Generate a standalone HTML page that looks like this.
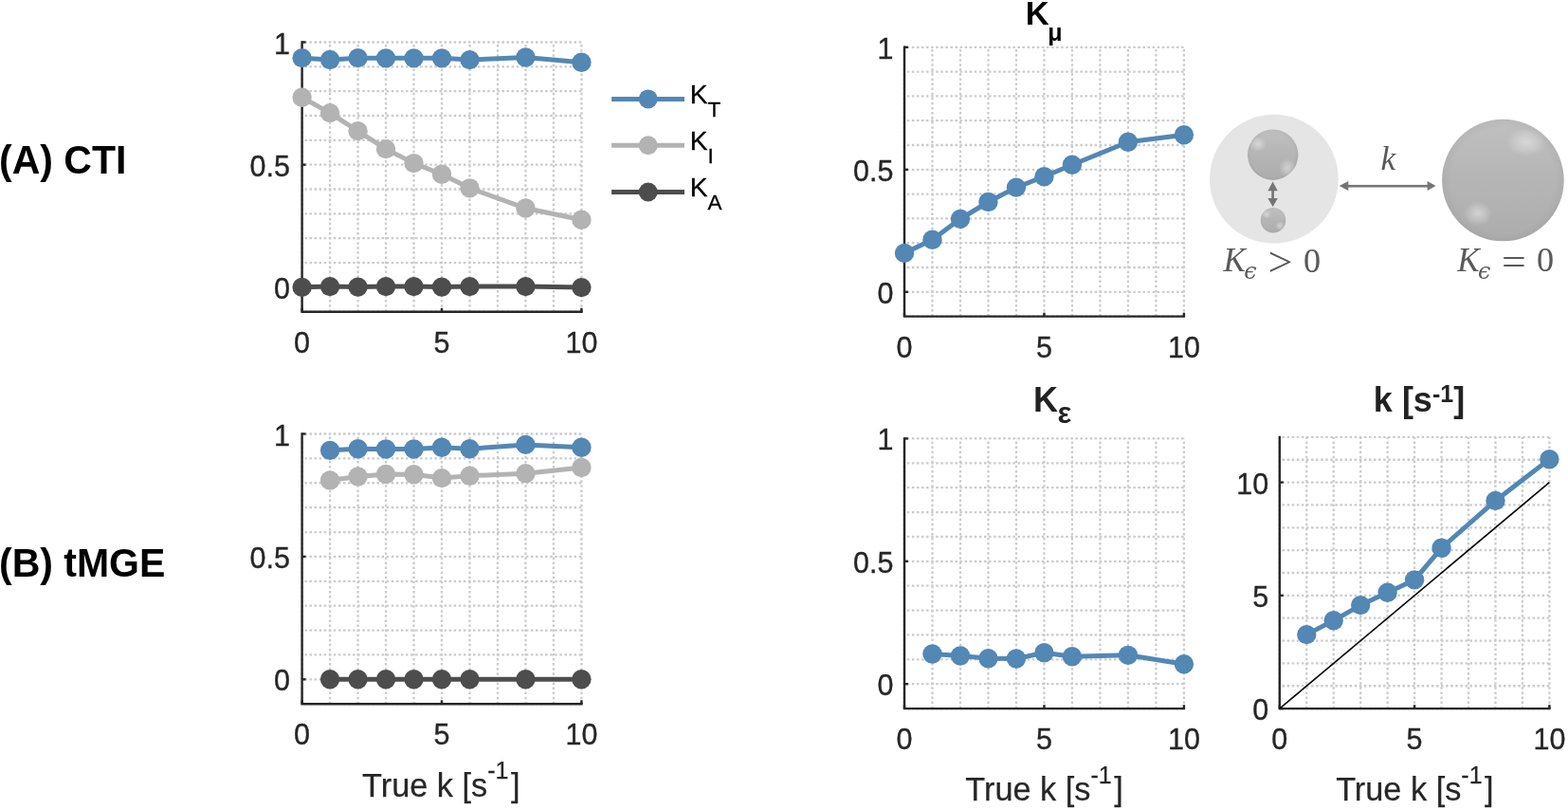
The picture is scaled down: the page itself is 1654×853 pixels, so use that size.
<!DOCTYPE html>
<html><head><meta charset="utf-8"><title>Figure</title>
<style>html,body{margin:0;padding:0;background:#fff;overflow:hidden}svg{display:block}</style>
</head><body>
<svg width="1654" height="853" viewBox="0 0 1654 853"><rect width="1654" height="853" fill="#fff"/>
<g stroke="#cbcbcb" stroke-width="2.3" stroke-dasharray="2.5 2.575" fill="none"><line x1="318.6" y1="328.7" x2="318.6" y2="44.5"/><line x1="348.08" y1="328.7" x2="348.08" y2="44.5"/><line x1="377.56" y1="328.7" x2="377.56" y2="44.5"/><line x1="407.04" y1="328.7" x2="407.04" y2="44.5"/><line x1="436.52" y1="328.7" x2="436.52" y2="44.5"/><line x1="466" y1="328.7" x2="466" y2="44.5"/><line x1="495.48" y1="328.7" x2="495.48" y2="44.5"/><line x1="524.96" y1="328.7" x2="524.96" y2="44.5"/><line x1="554.44" y1="328.7" x2="554.44" y2="44.5"/><line x1="583.92" y1="328.7" x2="583.92" y2="44.5"/><line x1="613.4" y1="328.7" x2="613.4" y2="44.5"/><line x1="318.6" y1="328.7" x2="613.4" y2="328.7" stroke-dashoffset="2.3"/><line x1="318.6" y1="302.86" x2="613.4" y2="302.86" stroke-dashoffset="2.3"/><line x1="318.6" y1="277.03" x2="613.4" y2="277.03" stroke-dashoffset="2.3"/><line x1="318.6" y1="251.19" x2="613.4" y2="251.19" stroke-dashoffset="2.3"/><line x1="318.6" y1="225.35" x2="613.4" y2="225.35" stroke-dashoffset="2.3"/><line x1="318.6" y1="199.52" x2="613.4" y2="199.52" stroke-dashoffset="2.3"/><line x1="318.6" y1="173.68" x2="613.4" y2="173.68" stroke-dashoffset="2.3"/><line x1="318.6" y1="147.85" x2="613.4" y2="147.85" stroke-dashoffset="2.3"/><line x1="318.6" y1="122.01" x2="613.4" y2="122.01" stroke-dashoffset="2.3"/><line x1="318.6" y1="96.17" x2="613.4" y2="96.17" stroke-dashoffset="2.3"/><line x1="318.6" y1="70.34" x2="613.4" y2="70.34" stroke-dashoffset="2.3"/><line x1="318.6" y1="44.5" x2="613.4" y2="44.5" stroke-dashoffset="2.3"/></g>
<g stroke="#cbcbcb" stroke-width="2.3" stroke-dasharray="2.5 2.575" fill="none"><line x1="318.6" y1="742.2" x2="318.6" y2="457.5"/><line x1="348.08" y1="742.2" x2="348.08" y2="457.5"/><line x1="377.56" y1="742.2" x2="377.56" y2="457.5"/><line x1="407.04" y1="742.2" x2="407.04" y2="457.5"/><line x1="436.52" y1="742.2" x2="436.52" y2="457.5"/><line x1="466" y1="742.2" x2="466" y2="457.5"/><line x1="495.48" y1="742.2" x2="495.48" y2="457.5"/><line x1="524.96" y1="742.2" x2="524.96" y2="457.5"/><line x1="554.44" y1="742.2" x2="554.44" y2="457.5"/><line x1="583.92" y1="742.2" x2="583.92" y2="457.5"/><line x1="613.4" y1="742.2" x2="613.4" y2="457.5"/><line x1="318.6" y1="742.2" x2="613.4" y2="742.2" stroke-dashoffset="2.3"/><line x1="318.6" y1="716.32" x2="613.4" y2="716.32" stroke-dashoffset="2.3"/><line x1="318.6" y1="690.44" x2="613.4" y2="690.44" stroke-dashoffset="2.3"/><line x1="318.6" y1="664.55" x2="613.4" y2="664.55" stroke-dashoffset="2.3"/><line x1="318.6" y1="638.67" x2="613.4" y2="638.67" stroke-dashoffset="2.3"/><line x1="318.6" y1="612.79" x2="613.4" y2="612.79" stroke-dashoffset="2.3"/><line x1="318.6" y1="586.91" x2="613.4" y2="586.91" stroke-dashoffset="2.3"/><line x1="318.6" y1="561.03" x2="613.4" y2="561.03" stroke-dashoffset="2.3"/><line x1="318.6" y1="535.15" x2="613.4" y2="535.15" stroke-dashoffset="2.3"/><line x1="318.6" y1="509.26" x2="613.4" y2="509.26" stroke-dashoffset="2.3"/><line x1="318.6" y1="483.38" x2="613.4" y2="483.38" stroke-dashoffset="2.3"/><line x1="318.6" y1="457.5" x2="613.4" y2="457.5" stroke-dashoffset="2.3"/></g>
<g stroke="#cbcbcb" stroke-width="2.3" stroke-dasharray="2.5 2.575" fill="none"><line x1="954" y1="333.6" x2="954" y2="49.8"/><line x1="983.49" y1="333.6" x2="983.49" y2="49.8"/><line x1="1012.98" y1="333.6" x2="1012.98" y2="49.8"/><line x1="1042.47" y1="333.6" x2="1042.47" y2="49.8"/><line x1="1071.96" y1="333.6" x2="1071.96" y2="49.8"/><line x1="1101.45" y1="333.6" x2="1101.45" y2="49.8"/><line x1="1130.94" y1="333.6" x2="1130.94" y2="49.8"/><line x1="1160.43" y1="333.6" x2="1160.43" y2="49.8"/><line x1="1189.92" y1="333.6" x2="1189.92" y2="49.8"/><line x1="1219.41" y1="333.6" x2="1219.41" y2="49.8"/><line x1="1248.9" y1="333.6" x2="1248.9" y2="49.8"/><line x1="954" y1="333.6" x2="1248.9" y2="333.6" stroke-dashoffset="2.3"/><line x1="954" y1="307.8" x2="1248.9" y2="307.8" stroke-dashoffset="2.3"/><line x1="954" y1="282" x2="1248.9" y2="282" stroke-dashoffset="2.3"/><line x1="954" y1="256.2" x2="1248.9" y2="256.2" stroke-dashoffset="2.3"/><line x1="954" y1="230.4" x2="1248.9" y2="230.4" stroke-dashoffset="2.3"/><line x1="954" y1="204.6" x2="1248.9" y2="204.6" stroke-dashoffset="2.3"/><line x1="954" y1="178.8" x2="1248.9" y2="178.8" stroke-dashoffset="2.3"/><line x1="954" y1="153" x2="1248.9" y2="153" stroke-dashoffset="2.3"/><line x1="954" y1="127.2" x2="1248.9" y2="127.2" stroke-dashoffset="2.3"/><line x1="954" y1="101.4" x2="1248.9" y2="101.4" stroke-dashoffset="2.3"/><line x1="954" y1="75.6" x2="1248.9" y2="75.6" stroke-dashoffset="2.3"/><line x1="954" y1="49.8" x2="1248.9" y2="49.8" stroke-dashoffset="2.3"/></g>
<g stroke="#cbcbcb" stroke-width="2.3" stroke-dasharray="2.5 2.575" fill="none"><line x1="954" y1="747.1" x2="954" y2="462.4"/><line x1="983.49" y1="747.1" x2="983.49" y2="462.4"/><line x1="1012.98" y1="747.1" x2="1012.98" y2="462.4"/><line x1="1042.47" y1="747.1" x2="1042.47" y2="462.4"/><line x1="1071.96" y1="747.1" x2="1071.96" y2="462.4"/><line x1="1101.45" y1="747.1" x2="1101.45" y2="462.4"/><line x1="1130.94" y1="747.1" x2="1130.94" y2="462.4"/><line x1="1160.43" y1="747.1" x2="1160.43" y2="462.4"/><line x1="1189.92" y1="747.1" x2="1189.92" y2="462.4"/><line x1="1219.41" y1="747.1" x2="1219.41" y2="462.4"/><line x1="1248.9" y1="747.1" x2="1248.9" y2="462.4"/><line x1="954" y1="747.1" x2="1248.9" y2="747.1" stroke-dashoffset="2.3"/><line x1="954" y1="721.22" x2="1248.9" y2="721.22" stroke-dashoffset="2.3"/><line x1="954" y1="695.34" x2="1248.9" y2="695.34" stroke-dashoffset="2.3"/><line x1="954" y1="669.45" x2="1248.9" y2="669.45" stroke-dashoffset="2.3"/><line x1="954" y1="643.57" x2="1248.9" y2="643.57" stroke-dashoffset="2.3"/><line x1="954" y1="617.69" x2="1248.9" y2="617.69" stroke-dashoffset="2.3"/><line x1="954" y1="591.81" x2="1248.9" y2="591.81" stroke-dashoffset="2.3"/><line x1="954" y1="565.93" x2="1248.9" y2="565.93" stroke-dashoffset="2.3"/><line x1="954" y1="540.05" x2="1248.9" y2="540.05" stroke-dashoffset="2.3"/><line x1="954" y1="514.16" x2="1248.9" y2="514.16" stroke-dashoffset="2.3"/><line x1="954" y1="488.28" x2="1248.9" y2="488.28" stroke-dashoffset="2.3"/><line x1="954" y1="462.4" x2="1248.9" y2="462.4" stroke-dashoffset="2.3"/></g>
<g stroke="#cbcbcb" stroke-width="2.3" stroke-dasharray="2.5 2.575" fill="none"><line x1="1349.8" y1="747.1" x2="1349.8" y2="460.9"/><line x1="1378.26" y1="747.1" x2="1378.26" y2="460.9"/><line x1="1406.72" y1="747.1" x2="1406.72" y2="460.9"/><line x1="1435.18" y1="747.1" x2="1435.18" y2="460.9"/><line x1="1463.64" y1="747.1" x2="1463.64" y2="460.9"/><line x1="1492.1" y1="747.1" x2="1492.1" y2="460.9"/><line x1="1520.56" y1="747.1" x2="1520.56" y2="460.9"/><line x1="1549.02" y1="747.1" x2="1549.02" y2="460.9"/><line x1="1577.48" y1="747.1" x2="1577.48" y2="460.9"/><line x1="1605.94" y1="747.1" x2="1605.94" y2="460.9"/><line x1="1634.4" y1="747.1" x2="1634.4" y2="460.9"/><line x1="1349.8" y1="747.1" x2="1634.4" y2="747.1" stroke-dashoffset="2.3"/><line x1="1349.8" y1="723.25" x2="1634.4" y2="723.25" stroke-dashoffset="2.3"/><line x1="1349.8" y1="699.4" x2="1634.4" y2="699.4" stroke-dashoffset="2.3"/><line x1="1349.8" y1="675.55" x2="1634.4" y2="675.55" stroke-dashoffset="2.3"/><line x1="1349.8" y1="651.7" x2="1634.4" y2="651.7" stroke-dashoffset="2.3"/><line x1="1349.8" y1="627.85" x2="1634.4" y2="627.85" stroke-dashoffset="2.3"/><line x1="1349.8" y1="604" x2="1634.4" y2="604" stroke-dashoffset="2.3"/><line x1="1349.8" y1="580.15" x2="1634.4" y2="580.15" stroke-dashoffset="2.3"/><line x1="1349.8" y1="556.3" x2="1634.4" y2="556.3" stroke-dashoffset="2.3"/><line x1="1349.8" y1="532.45" x2="1634.4" y2="532.45" stroke-dashoffset="2.3"/><line x1="1349.8" y1="508.6" x2="1634.4" y2="508.6" stroke-dashoffset="2.3"/><line x1="1349.8" y1="484.75" x2="1634.4" y2="484.75" stroke-dashoffset="2.3"/><line x1="1349.8" y1="460.9" x2="1634.4" y2="460.9" stroke-dashoffset="2.3"/></g>
<path d="M318.6 44.5 V328.7 H613.4" stroke="#262626" stroke-width="2.4" fill="none" stroke-linecap="square"/>
<g stroke="#262626" stroke-width="2.4" fill="none"><path d="M318.6 302.86 H322.5"/><path d="M318.6 173.68 H322.5"/><path d="M318.6 44.5 H322.5"/><path d="M318.6 328.7 V324.8"/><path d="M466 328.7 V324.8"/><path d="M613.4 328.7 V324.8"/></g>
<g font-family='"Liberation Sans", Arial, Helvetica, sans-serif' font-size="30.5" fill="#262626" stroke="#262626" stroke-width="0.35"><text x="306" y="314.86" text-anchor="end">0</text><text x="306" y="185.68" text-anchor="end">0.5</text><text x="306" y="56.5" text-anchor="end">1</text><text x="318.6" y="371.7" text-anchor="middle">0</text><text x="466" y="371.7" text-anchor="middle">5</text><text x="613.4" y="371.7" text-anchor="middle">10</text></g>
<path d="M318.6 457.5 V742.2 H613.4" stroke="#262626" stroke-width="2.4" fill="none" stroke-linecap="square"/>
<g stroke="#262626" stroke-width="2.4" fill="none"><path d="M318.6 716.32 H322.5"/><path d="M318.6 586.91 H322.5"/><path d="M318.6 457.5 H322.5"/><path d="M318.6 742.2 V738.3"/><path d="M466 742.2 V738.3"/><path d="M613.4 742.2 V738.3"/></g>
<g font-family='"Liberation Sans", Arial, Helvetica, sans-serif' font-size="30.5" fill="#262626" stroke="#262626" stroke-width="0.35"><text x="306" y="728.32" text-anchor="end">0</text><text x="306" y="598.91" text-anchor="end">0.5</text><text x="306" y="469.5" text-anchor="end">1</text><text x="318.6" y="785.2" text-anchor="middle">0</text><text x="466" y="785.2" text-anchor="middle">5</text><text x="613.4" y="785.2" text-anchor="middle">10</text></g>
<path d="M954 49.8 V333.6 H1248.9" stroke="#262626" stroke-width="2.4" fill="none" stroke-linecap="square"/>
<g stroke="#262626" stroke-width="2.4" fill="none"><path d="M954 307.8 H957.9"/><path d="M954 178.8 H957.9"/><path d="M954 49.8 H957.9"/><path d="M954 333.6 V329.7"/><path d="M1101.45 333.6 V329.7"/><path d="M1248.9 333.6 V329.7"/></g>
<g font-family='"Liberation Sans", Arial, Helvetica, sans-serif' font-size="30.5" fill="#262626" stroke="#262626" stroke-width="0.35"><text x="942.4" y="319.8" text-anchor="end">0</text><text x="942.4" y="190.8" text-anchor="end">0.5</text><text x="942.4" y="61.8" text-anchor="end">1</text><text x="954" y="376.6" text-anchor="middle">0</text><text x="1101.45" y="376.6" text-anchor="middle">5</text><text x="1248.9" y="376.6" text-anchor="middle">10</text></g>
<path d="M954 462.4 V747.1 H1248.9" stroke="#262626" stroke-width="2.4" fill="none" stroke-linecap="square"/>
<g stroke="#262626" stroke-width="2.4" fill="none"><path d="M954 721.22 H957.9"/><path d="M954 591.81 H957.9"/><path d="M954 462.4 H957.9"/><path d="M954 747.1 V743.2"/><path d="M1101.45 747.1 V743.2"/><path d="M1248.9 747.1 V743.2"/></g>
<g font-family='"Liberation Sans", Arial, Helvetica, sans-serif' font-size="30.5" fill="#262626" stroke="#262626" stroke-width="0.35"><text x="942.4" y="733.22" text-anchor="end">0</text><text x="942.4" y="603.81" text-anchor="end">0.5</text><text x="942.4" y="474.4" text-anchor="end">1</text><text x="954" y="790.1" text-anchor="middle">0</text><text x="1101.45" y="790.1" text-anchor="middle">5</text><text x="1248.9" y="790.1" text-anchor="middle">10</text></g>
<path d="M1349.8 460.9 V747.1 H1634.4" stroke="#262626" stroke-width="2.4" fill="none" stroke-linecap="square"/>
<g stroke="#262626" stroke-width="2.4" fill="none"><path d="M1349.8 747.1 H1353.7"/><path d="M1349.8 627.85 H1353.7"/><path d="M1349.8 508.6 H1353.7"/><path d="M1349.8 747.1 V743.2"/><path d="M1492.1 747.1 V743.2"/><path d="M1634.4 747.1 V743.2"/></g>
<g font-family='"Liberation Sans", Arial, Helvetica, sans-serif' font-size="30.5" fill="#262626" stroke="#262626" stroke-width="0.35"><text x="1338.2" y="759.1" text-anchor="end">0</text><text x="1338.2" y="639.85" text-anchor="end">5</text><text x="1338.2" y="520.6" text-anchor="end">10</text><text x="1349.8" y="790.1" text-anchor="middle">0</text><text x="1492.1" y="790.1" text-anchor="middle">5</text><text x="1634.4" y="790.1" text-anchor="middle">10</text></g>
<line x1="1349.8" y1="747.1" x2="1634.4" y2="508.6" stroke="#000" stroke-width="1.6"/>
<polyline points="318.6,61.16 348.08,62.95 377.56,61.16 407.04,61.35 436.52,61.35 466,61.35 495.48,63.1 554.44,60.52 613.4,65.69" fill="none" stroke="#5387b4" stroke-width="5.0" stroke-linejoin="round"/>
<g fill="#5387b4"><circle cx="318.6" cy="61.16" r="10.2"/><circle cx="348.08" cy="62.95" r="10.2"/><circle cx="377.56" cy="61.16" r="10.2"/><circle cx="407.04" cy="61.35" r="10.2"/><circle cx="436.52" cy="61.35" r="10.2"/><circle cx="466" cy="61.35" r="10.2"/><circle cx="495.48" cy="63.1" r="10.2"/><circle cx="554.44" cy="60.52" r="10.2"/><circle cx="613.4" cy="65.69" r="10.2"/></g>
<polyline points="318.6,102.76 348.08,119.12 377.56,138.16 407.04,157.12 436.52,172.08 466,183.76 495.48,198.33 554.44,219.57 613.4,231.74" fill="none" stroke="#b3b3b3" stroke-width="5.0" stroke-linejoin="round"/>
<g fill="#b3b3b3"><circle cx="318.6" cy="102.76" r="10.2"/><circle cx="348.08" cy="119.12" r="10.2"/><circle cx="377.56" cy="138.16" r="10.2"/><circle cx="407.04" cy="157.12" r="10.2"/><circle cx="436.52" cy="172.08" r="10.2"/><circle cx="466" cy="183.76" r="10.2"/><circle cx="495.48" cy="198.33" r="10.2"/><circle cx="554.44" cy="219.57" r="10.2"/><circle cx="613.4" cy="231.74" r="10.2"/></g>
<polyline points="318.6,302.86 348.08,302.09 377.56,302.61 407.04,302.09 436.52,302.09 466,302.61 495.48,302.09 554.44,302.09 613.4,303.12" fill="none" stroke="#4d4d4d" stroke-width="5.0" stroke-linejoin="round"/>
<g fill="#4d4d4d"><circle cx="318.6" cy="302.86" r="10.2"/><circle cx="348.08" cy="302.09" r="10.2"/><circle cx="377.56" cy="302.61" r="10.2"/><circle cx="407.04" cy="302.09" r="10.2"/><circle cx="436.52" cy="302.09" r="10.2"/><circle cx="466" cy="302.61" r="10.2"/><circle cx="495.48" cy="302.09" r="10.2"/><circle cx="554.44" cy="302.09" r="10.2"/><circle cx="613.4" cy="303.12" r="10.2"/></g>
<polyline points="348.08,474.84 377.56,473.29 407.04,473.55 436.52,473.55 466,471.74 495.48,473.29 554.44,468.89 613.4,471.74" fill="none" stroke="#5387b4" stroke-width="5.0" stroke-linejoin="round"/>
<g fill="#5387b4"><circle cx="348.08" cy="474.84" r="10.2"/><circle cx="377.56" cy="473.29" r="10.2"/><circle cx="407.04" cy="473.55" r="10.2"/><circle cx="436.52" cy="473.55" r="10.2"/><circle cx="466" cy="471.74" r="10.2"/><circle cx="495.48" cy="473.29" r="10.2"/><circle cx="554.44" cy="468.89" r="10.2"/><circle cx="613.4" cy="471.74" r="10.2"/></g>
<polyline points="348.08,506.42 377.56,502.53 407.04,499.95 436.52,500.21 466,504.09 495.48,501.76 554.44,499.17 613.4,492.96" fill="none" stroke="#b3b3b3" stroke-width="5.0" stroke-linejoin="round"/>
<g fill="#b3b3b3"><circle cx="348.08" cy="506.42" r="10.2"/><circle cx="377.56" cy="502.53" r="10.2"/><circle cx="407.04" cy="499.95" r="10.2"/><circle cx="436.52" cy="500.21" r="10.2"/><circle cx="466" cy="504.09" r="10.2"/><circle cx="495.48" cy="501.76" r="10.2"/><circle cx="554.44" cy="499.17" r="10.2"/><circle cx="613.4" cy="492.96" r="10.2"/></g>
<polyline points="348.08,716.32 377.56,716.32 407.04,716.32 436.52,716.32 466,716.32 495.48,716.32 554.44,716.32 613.4,716.32" fill="none" stroke="#4d4d4d" stroke-width="5.0" stroke-linejoin="round"/>
<g fill="#4d4d4d"><circle cx="348.08" cy="716.32" r="10.2"/><circle cx="377.56" cy="716.32" r="10.2"/><circle cx="407.04" cy="716.32" r="10.2"/><circle cx="436.52" cy="716.32" r="10.2"/><circle cx="466" cy="716.32" r="10.2"/><circle cx="495.48" cy="716.32" r="10.2"/><circle cx="554.44" cy="716.32" r="10.2"/><circle cx="613.4" cy="716.32" r="10.2"/></g>
<polyline points="954,266.88 983.49,252.82 1012.98,230.84 1042.47,212.99 1071.96,197.61 1101.45,186.23 1130.94,173.77 1189.92,149.8 1248.9,142.22" fill="none" stroke="#5387b4" stroke-width="5.0" stroke-linejoin="round"/>
<g fill="#5387b4"><circle cx="954" cy="266.88" r="10.2"/><circle cx="983.49" cy="252.82" r="10.2"/><circle cx="1012.98" cy="230.84" r="10.2"/><circle cx="1042.47" cy="212.99" r="10.2"/><circle cx="1071.96" cy="197.61" r="10.2"/><circle cx="1101.45" cy="186.23" r="10.2"/><circle cx="1130.94" cy="173.77" r="10.2"/><circle cx="1189.92" cy="149.8" r="10.2"/><circle cx="1248.9" cy="142.22" r="10.2"/></g>
<polyline points="983.49,689.44 1012.98,691.43 1042.47,694.22 1071.96,694.43 1101.45,688.22 1130.94,692.23 1189.92,690.83 1248.9,700.23" fill="none" stroke="#5387b4" stroke-width="5.0" stroke-linejoin="round"/>
<g fill="#5387b4"><circle cx="983.49" cy="689.44" r="10.2"/><circle cx="1012.98" cy="691.43" r="10.2"/><circle cx="1042.47" cy="694.22" r="10.2"/><circle cx="1071.96" cy="694.43" r="10.2"/><circle cx="1101.45" cy="688.22" r="10.2"/><circle cx="1130.94" cy="692.23" r="10.2"/><circle cx="1189.92" cy="690.83" r="10.2"/><circle cx="1248.9" cy="700.23" r="10.2"/></g>
<polyline points="1378.26,669.11 1406.72,654.32 1435.18,638.11 1463.64,624.75 1492.1,611.39 1520.56,577.76 1577.48,527.92 1634.4,484.27" fill="none" stroke="#5387b4" stroke-width="5.0" stroke-linejoin="round"/>
<g fill="#5387b4"><circle cx="1378.26" cy="669.11" r="10.2"/><circle cx="1406.72" cy="654.32" r="10.2"/><circle cx="1435.18" cy="638.11" r="10.2"/><circle cx="1463.64" cy="624.75" r="10.2"/><circle cx="1492.1" cy="611.39" r="10.2"/><circle cx="1520.56" cy="577.76" r="10.2"/><circle cx="1577.48" cy="527.92" r="10.2"/><circle cx="1634.4" cy="484.27" r="10.2"/></g>
<line x1="645.1" y1="104.4" x2="722" y2="104.4" stroke="#5387b4" stroke-width="5"/>
<circle cx="683.7" cy="104.4" r="10" fill="#5387b4"/>
<text x="727.8" y="109" font-family='"Liberation Sans", Arial, Helvetica, sans-serif' font-size="28.2" fill="#000" stroke="#000" stroke-width="0.3">K<tspan font-size="22.5" dy="13.8">T</tspan></text>
<line x1="645.1" y1="153.3" x2="722" y2="153.3" stroke="#b3b3b3" stroke-width="5"/>
<circle cx="683.7" cy="153.3" r="10" fill="#b3b3b3"/>
<text x="727.8" y="157.9" font-family='"Liberation Sans", Arial, Helvetica, sans-serif' font-size="28.2" fill="#000" stroke="#000" stroke-width="0.3">K<tspan font-size="22.5" dy="13.8">I</tspan></text>
<line x1="645.1" y1="202.5" x2="722" y2="202.5" stroke="#4d4d4d" stroke-width="5"/>
<circle cx="683.7" cy="202.5" r="10" fill="#4d4d4d"/>
<text x="727.8" y="207.1" font-family='"Liberation Sans", Arial, Helvetica, sans-serif' font-size="28.2" fill="#000" stroke="#000" stroke-width="0.3">K<tspan font-size="22.5" dy="13.8">A</tspan></text>
<text x="0" y="0" transform="translate(-1 182.7) scale(1 1.03)" font-family='"Liberation Sans", Arial, Helvetica, sans-serif' font-size="41" font-weight="bold" fill="#000">(A) CTI</text>
<text x="0" y="0" transform="translate(-1 608) scale(1 1.03)" font-family='"Liberation Sans", Arial, Helvetica, sans-serif' font-size="41" font-weight="bold" fill="#000">(B) tMGE</text>
<text x="1081.7" y="25.8" font-family='"Liberation Sans", Arial, Helvetica, sans-serif' font-size="34.5" font-weight="bold" fill="#000">K</text>
<text x="1105.3" y="42.8" font-family='"Liberation Sans", Arial, Helvetica, sans-serif' font-size="25" font-weight="bold" fill="#000">μ</text>
<text x="1090" y="434" font-family='"Liberation Sans", Arial, Helvetica, sans-serif' font-size="36" font-weight="bold" fill="#222">K</text>
<text x="1115.5" y="446" font-family='"Liberation Sans", Arial, Helvetica, sans-serif' font-size="31" font-weight="bold" fill="#222">ε</text>
<text x="1497" y="434.1" text-anchor="middle" font-family='"Liberation Sans", Arial, Helvetica, sans-serif' font-size="36" font-weight="bold" fill="#222">k [s<tspan font-size="25" dy="-10.5">-1</tspan><tspan dy="10.5">]</tspan></text>
<text x="465.3" y="839.8" text-anchor="middle" font-family='"Liberation Sans", Arial, Helvetica, sans-serif' font-size="34.3" fill="#262626" stroke="#262626" stroke-width="0.25">True k [s<tspan font-size="25" dy="-18.4">-1</tspan><tspan dy="18.4" dx="2.5">]</tspan></text>
<text x="1101.5" y="844.4" text-anchor="middle" font-family='"Liberation Sans", Arial, Helvetica, sans-serif' font-size="34.3" fill="#262626" stroke="#262626" stroke-width="0.25">True k [s<tspan font-size="25" dy="-18.4">-1</tspan><tspan dy="18.4" dx="2.5">]</tspan></text>
<text x="1492.4" y="844.4" text-anchor="middle" font-family='"Liberation Sans", Arial, Helvetica, sans-serif' font-size="34.3" fill="#262626" stroke="#262626" stroke-width="0.25">True k [s<tspan font-size="25" dy="-18.4">-1</tspan><tspan dy="18.4" dx="2.5">]</tspan></text>
<defs>
<linearGradient id="sphL" x1="0" y1="0" x2="0" y2="1">
<stop offset="0" stop-color="#c0c0c0"/><stop offset="0.5" stop-color="#b5b5b5"/><stop offset="1" stop-color="#adadad"/>
</linearGradient>
<radialGradient id="rim" cx="50%" cy="50%" r="50%">
<stop offset="0.85" stop-color="#000" stop-opacity="0"/><stop offset="1" stop-color="#000" stop-opacity="0.04"/>
</radialGradient>
<radialGradient id="hl" cx="50%" cy="50%" r="50%">
<stop offset="0" stop-color="#fff" stop-opacity="0.42"/><stop offset="0.55" stop-color="#fff" stop-opacity="0.2"/><stop offset="1" stop-color="#fff" stop-opacity="0"/>
</radialGradient>
</defs>
<circle cx="1343.9" cy="188.7" r="67.9" fill="#e5e5e5"/>
<circle cx="1342.7" cy="163.2" r="26.7" fill="url(#sphL)"/>
<circle cx="1342.7" cy="163.2" r="26.7" fill="url(#rim)"/>
<ellipse cx="1327" cy="152" rx="9" ry="8" fill="url(#hl)"/>
<ellipse cx="1358" cy="177" rx="9" ry="10" fill="url(#hl)"/>
<circle cx="1343" cy="232.2" r="13.2" fill="url(#sphL)"/>
<circle cx="1343" cy="232.2" r="13.2" fill="url(#rim)"/>
<ellipse cx="1336" cy="226" rx="5" ry="4.5" fill="url(#hl)"/>
<ellipse cx="1350" cy="238" rx="4.5" ry="5" fill="url(#hl)"/>
<circle cx="1585.4" cy="190" r="64.3" fill="url(#sphL)"/>
<circle cx="1585.4" cy="190" r="64.3" fill="url(#rim)"/>
<ellipse cx="1610" cy="150" rx="21" ry="15" fill="url(#hl)"/>
<ellipse cx="1559" cy="225" rx="15" ry="13" fill="url(#hl)"/>
<g fill="#757575" stroke="none">
<rect x="1421" y="194.9" width="86" height="2.6"/>
<path d="M1412.7 196.1 L1422.3 191.1 L1422.3 201.1 Z"/>
<path d="M1514.6 196.1 L1505.6 190.9 L1505.6 201.1 Z"/>
<rect x="1341.3" y="199" width="2.6" height="11"/>
<path d="M1342.6 191.6 L1337.4 201.2 L1347.8 201.2 Z"/>
<path d="M1342.6 218.1 L1337.4 208.9 L1347.8 208.9 Z"/>
</g>
<text x="1456.5" y="179" font-family='"Liberation Serif", "DejaVu Serif", serif' font-style="italic" font-size="35.5" fill="#595959">k</text>
<text x="1290.5" y="286.4" font-family='"Liberation Serif", "DejaVu Serif", serif' font-style="italic" font-size="35" fill="#595959">K</text>
<text x="1312.2" y="293.8" font-family='"DejaVu Serif", serif' font-style="italic" font-size="24" fill="#595959">ϵ</text>
<text x="0" y="0" transform="translate(1337.6 290.8) scale(1.05 1)" font-family='"Liberation Serif", "DejaVu Serif", serif' font-size="44" fill="#595959">&gt;</text>
<text x="1374.9" y="286.6" font-family='"Liberation Serif", "DejaVu Serif", serif' font-style="normal" font-size="36.2" fill="#595959">0</text>
<text x="1537.2" y="286.4" font-family='"Liberation Serif", "DejaVu Serif", serif' font-style="italic" font-size="35" fill="#595959">K</text>
<text x="1558.9" y="293.8" font-family='"DejaVu Serif", serif' font-style="italic" font-size="24" fill="#595959">ϵ</text>
<text x="0" y="0" transform="translate(1583.9 288.8) scale(1.04 0.88)" font-family='"Liberation Serif", "DejaVu Serif", serif' font-size="44" fill="#595959">=</text>
<text x="1621.1" y="286.4" font-family='"Liberation Serif", "DejaVu Serif", serif' font-style="normal" font-size="36.2" fill="#595959">0</text></svg>
</body></html>
